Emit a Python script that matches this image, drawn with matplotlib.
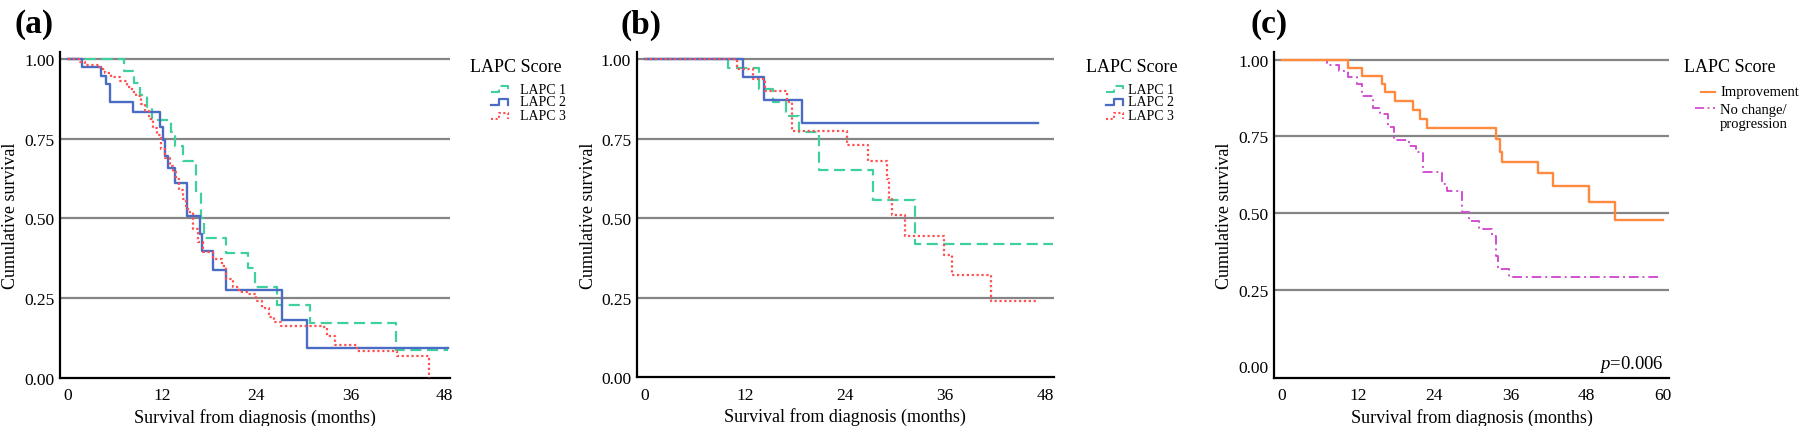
import matplotlib
matplotlib.use("Agg")
import matplotlib.pyplot as plt
from matplotlib.lines import Line2D

plt.rcParams['font.family'] = ['Liberation Serif', 'DejaVu Serif']
plt.rcParams['mathtext.fontset'] = 'custom'
plt.rcParams['mathtext.it'] = 'Liberation Serif:italic'
plt.rcParams['mathtext.rm'] = 'Liberation Serif'

# ---- data (months, cumulative survival) ----
# panel (a)
a_lapc1_t = [0, 7.1, 8.4, 9.2, 10.1, 10.7, 13.2, 13.6, 14.7, 16.35, 17.0, 17.3, 20.15, 23.0, 23.9, 26.6, 30.8, 41.8, 48.4]
a_lapc1_s = [1.0, 0.963, 0.925, 0.887, 0.848, 0.81, 0.77, 0.726, 0.681, 0.587, 0.50, 0.437, 0.39, 0.343, 0.284, 0.228, 0.172, 0.087, 0.087]
a_lapc2_t = [0, 1.85, 4.2, 4.8, 5.4, 8.3, 11.8, 12.1, 12.4, 12.75, 13.7, 15.2, 16.9, 17.1, 18.45, 20.15, 27.25, 30.5, 48.4]
a_lapc2_s = [1.0, 0.975, 0.948, 0.921, 0.864, 0.835, 0.787, 0.746, 0.697, 0.657, 0.61, 0.508, 0.451, 0.397, 0.339, 0.274, 0.181, 0.093, 0.093]
a_lapc3_t = [0, 1.5, 2.2, 4.1, 4.7, 5.5, 6.6, 7.5, 8.2, 8.7, 9.3, 9.8, 10.4, 10.9, 11.3, 11.9, 12.4, 13.0, 13.4,
             13.8, 14.2, 14.65, 15.0, 15.3, 15.9, 16.6, 17.2, 18.5, 19.7, 20.15, 21.0, 21.8, 22.9, 24.0, 24.8,
             25.6, 26.3, 27.1, 32.4, 33.0, 34.1, 36.9, 42.0, 46.0]
a_lapc3_s = [1.0, 0.99, 0.981, 0.97, 0.956, 0.945, 0.932, 0.911, 0.898, 0.883, 0.86, 0.838, 0.812, 0.785, 0.76,
             0.717, 0.69, 0.665, 0.645, 0.623, 0.59, 0.56, 0.54, 0.519, 0.467, 0.425, 0.393, 0.372, 0.352, 0.31,
             0.284, 0.268, 0.263, 0.242, 0.22, 0.19, 0.175, 0.163, 0.158, 0.132, 0.104, 0.085, 0.069, 0.0]

# panel (b)
b_lapc1_t = [0, 10.0, 13.7, 15.4, 16.9, 18.5, 20.9, 27.4, 32.4, 49.0]
b_lapc1_s = [1.0, 0.971, 0.906, 0.866, 0.82, 0.77, 0.65, 0.557, 0.419, 0.419]
b_lapc2_t = [0, 11.8, 14.3, 18.9, 47.2]
b_lapc2_s = [1.0, 0.942, 0.871, 0.798, 0.798]
b_lapc3_t = [0, 11.0, 13.0, 14.4, 17.1, 17.6, 24.3, 26.8, 29.1, 29.35, 29.6, 31.2, 35.9, 36.8, 41.5, 47.1]
b_lapc3_s = [1.0, 0.969, 0.937, 0.9, 0.864, 0.775, 0.73, 0.678, 0.623, 0.56, 0.51, 0.445, 0.384, 0.32, 0.241, 0.241]

# panel (c)
c_impr_t = [0, 10.4, 12.7, 15.8, 16.3, 17.9, 20.6, 21.8, 22.8, 33.8, 34.3, 34.6, 40.4, 42.7, 48.4, 52.5, 60.0]
c_impr_s = [1.0, 0.974, 0.948, 0.921, 0.894, 0.865, 0.837, 0.806, 0.777, 0.741, 0.70, 0.665, 0.629, 0.589, 0.537, 0.477, 0.477]
c_noch_t = [0, 7.1, 9.0, 10.5, 11.9, 12.7, 14.3, 15.4, 16.8, 17.6, 20.1, 21.2, 22.2, 25.2, 26.0, 28.3, 29.5,
            31.1, 33.05, 33.8, 34.1, 35.8, 59.4]
c_noch_s = [1.0, 0.983, 0.964, 0.942, 0.921, 0.883, 0.843, 0.823, 0.78, 0.739, 0.72, 0.698, 0.635, 0.595, 0.573,
            0.502, 0.475, 0.448, 0.424, 0.36, 0.317, 0.29, 0.29]

lapc_labels = ['LAPC 1', 'LAPC 2', 'LAPC 3']
change_labels = ['Improvement', 'No change/\nprogression']
yticks = [0, 0.25, 0.5, 0.75, 1.0]

GREEN = '#3fd09c'
BLUE = '#4a6cc4'
RED = '#ff4f4f'
ORANGE = '#ff8a3d'
MAGENTA = '#d24fd2'
DASH = (0, (5, 2.5))
DOT = (0, (1, 1.2))
DASHDOT = (0, (5, 2, 1, 2))

W, H = 1800, 427
fig = plt.figure(figsize=(18, 4.27), dpi=100)


def px_axes(left, top, right, bottom):
    return fig.add_axes([left / W, 1 - bottom / H, (right - left) / W, (bottom - top) / H])


def style_axes(ax, xlim, ylim, xticks, ylab_x):
    ax.set_xlim(*xlim)
    ax.set_ylim(*ylim)
    ax.set_xticks(xticks)
    ax.set_yticks(yticks)
    ax.set_yticklabels(['%.2f' % v for v in yticks])
    for v in yticks[1:]:
        ax.axhline(v, color='#858585', lw=1.6, zorder=1)
    for s in ['top', 'right']:
        ax.spines[s].set_visible(False)
    for s in ['left', 'bottom']:
        ax.spines[s].set_linewidth(1.6)
        ax.spines[s].set_color('black')
    ax.tick_params(length=0, labelsize=12.5)
    ax.tick_params(axis='x', pad=7)
    ax.tick_params(axis='y', pad=4)
    ax.set_xlabel('Survival from diagnosis (months)', fontsize=13, labelpad=3)
    ax.set_ylabel('Cumulative survival', fontsize=13, rotation_mode='default', ha='center', va='center')
    ax.yaxis.set_label_coords(ylab_x, 0.5)


def step_key(x0, x1, yc, color, ls, lw):
    xm = x0 + 0.5 * (x1 - x0)
    xs = [x0, xm, xm, x1, x1]
    ys = [yc + 3, yc + 3, yc - 3, yc - 3, yc + 3]
    fig.add_artist(Line2D([x / W for x in xs], [1 - y / H for y in ys], color=color,
                          linestyle=ls, lw=lw, transform=fig.transFigure))


def flat_key(x0, x1, yc, color, ls, lw):
    fig.add_artist(Line2D([x0 / W, x1 / W], [1 - yc / H] * 2, color=color,
                          linestyle=ls, lw=lw, transform=fig.transFigure))


def ftext(x, y, s, **kw):
    fig.text(x / W, 1 - y / H, s, **kw)


# ---- panel (a) ----
ax1 = px_axes(60, 53, 450, 378.7)
ax1.plot(a_lapc1_t, a_lapc1_s, drawstyle='steps-post', color=GREEN, ls=DASH, lw=1.6, zorder=3)
ax1.plot(a_lapc2_t, a_lapc2_s, drawstyle='steps-post', color=BLUE, lw=1.7, zorder=4)
ax1.plot(a_lapc3_t, a_lapc3_s, drawstyle='steps-post', color=RED, ls=DOT, lw=1.6, zorder=5)
style_axes(ax1, (-1.0, 48.7), (0, 1.022), [0, 12, 24, 36, 48], -0.126)

# ---- panel (b) ----
ax2 = px_axes(636.7, 53, 1054, 378.3)
ax2.plot(b_lapc1_t, b_lapc1_s, drawstyle='steps-post', color=GREEN, ls=DASH, lw=1.6, zorder=3)
ax2.plot(b_lapc2_t, b_lapc2_s, drawstyle='steps-post', color=BLUE, lw=1.7, zorder=4)
ax2.plot(b_lapc3_t, b_lapc3_s, drawstyle='steps-post', color=RED, ls=DOT, lw=1.6, zorder=5)
style_axes(ax2, (-1.0, 49.1), (0, 1.022), [0, 12, 24, 36, 48], -0.115)

# ---- panel (c) ----
ax3 = px_axes(1274.3, 53, 1669.3, 378.7)
ax3.plot(c_impr_t, c_impr_s, drawstyle='steps-post', color=ORANGE, lw=1.7, zorder=4)
ax3.plot(c_noch_t, c_noch_s, drawstyle='steps-post', color=MAGENTA, ls=DASHDOT, lw=1.4, zorder=3)
style_axes(ax3, (-1.16, 61.0), (-0.037, 1.025), [0, 12, 24, 36, 48, 60], -0.125)
ax3.text(0.985, 0.045, '$p$=0.006', transform=ax3.transAxes, ha='right', va='center', fontsize=13.5)

# ---- panel letters ----
for x, lab in [(15, '(a)'), (620, '(b)'), (1250, '(c)')]:
    ftext(x, 25, lab, fontsize=24, fontweight='bold', va='center', ha='left')

# ---- legends ----
for x_title, x_key, x_txt in [(470, 490.7, 520), (1086, 1105.7, 1128)]:
    ftext(x_title, 68, 'LAPC Score', fontsize=13, va='center')
    rows = zip([90, 102.7, 116.5], lapc_labels, [(GREEN, DASH, 1.5), (BLUE, '-', 1.6), (RED, DOT, 1.5)])
    for yc, lab, (col, ls, lw) in rows:
        step_key(x_key, x_key + 17, yc, col, ls, lw)
        ftext(x_txt, yc, lab, fontsize=10, va='center')

ftext(1684, 68, 'LAPC Score', fontsize=13, va='center')
flat_key(1700.7, 1715, 92.7, ORANGE, '-', 1.5)
ftext(1720, 92.7, change_labels[0], fontsize=10.5, va='center')
flat_key(1695, 1715, 108.7, MAGENTA, DASHDOT, 1.3)
ftext(1720, 117.2, change_labels[1], fontsize=10.5, va='center', linespacing=1.1)

fig.savefig('out.png', dpi=100)
